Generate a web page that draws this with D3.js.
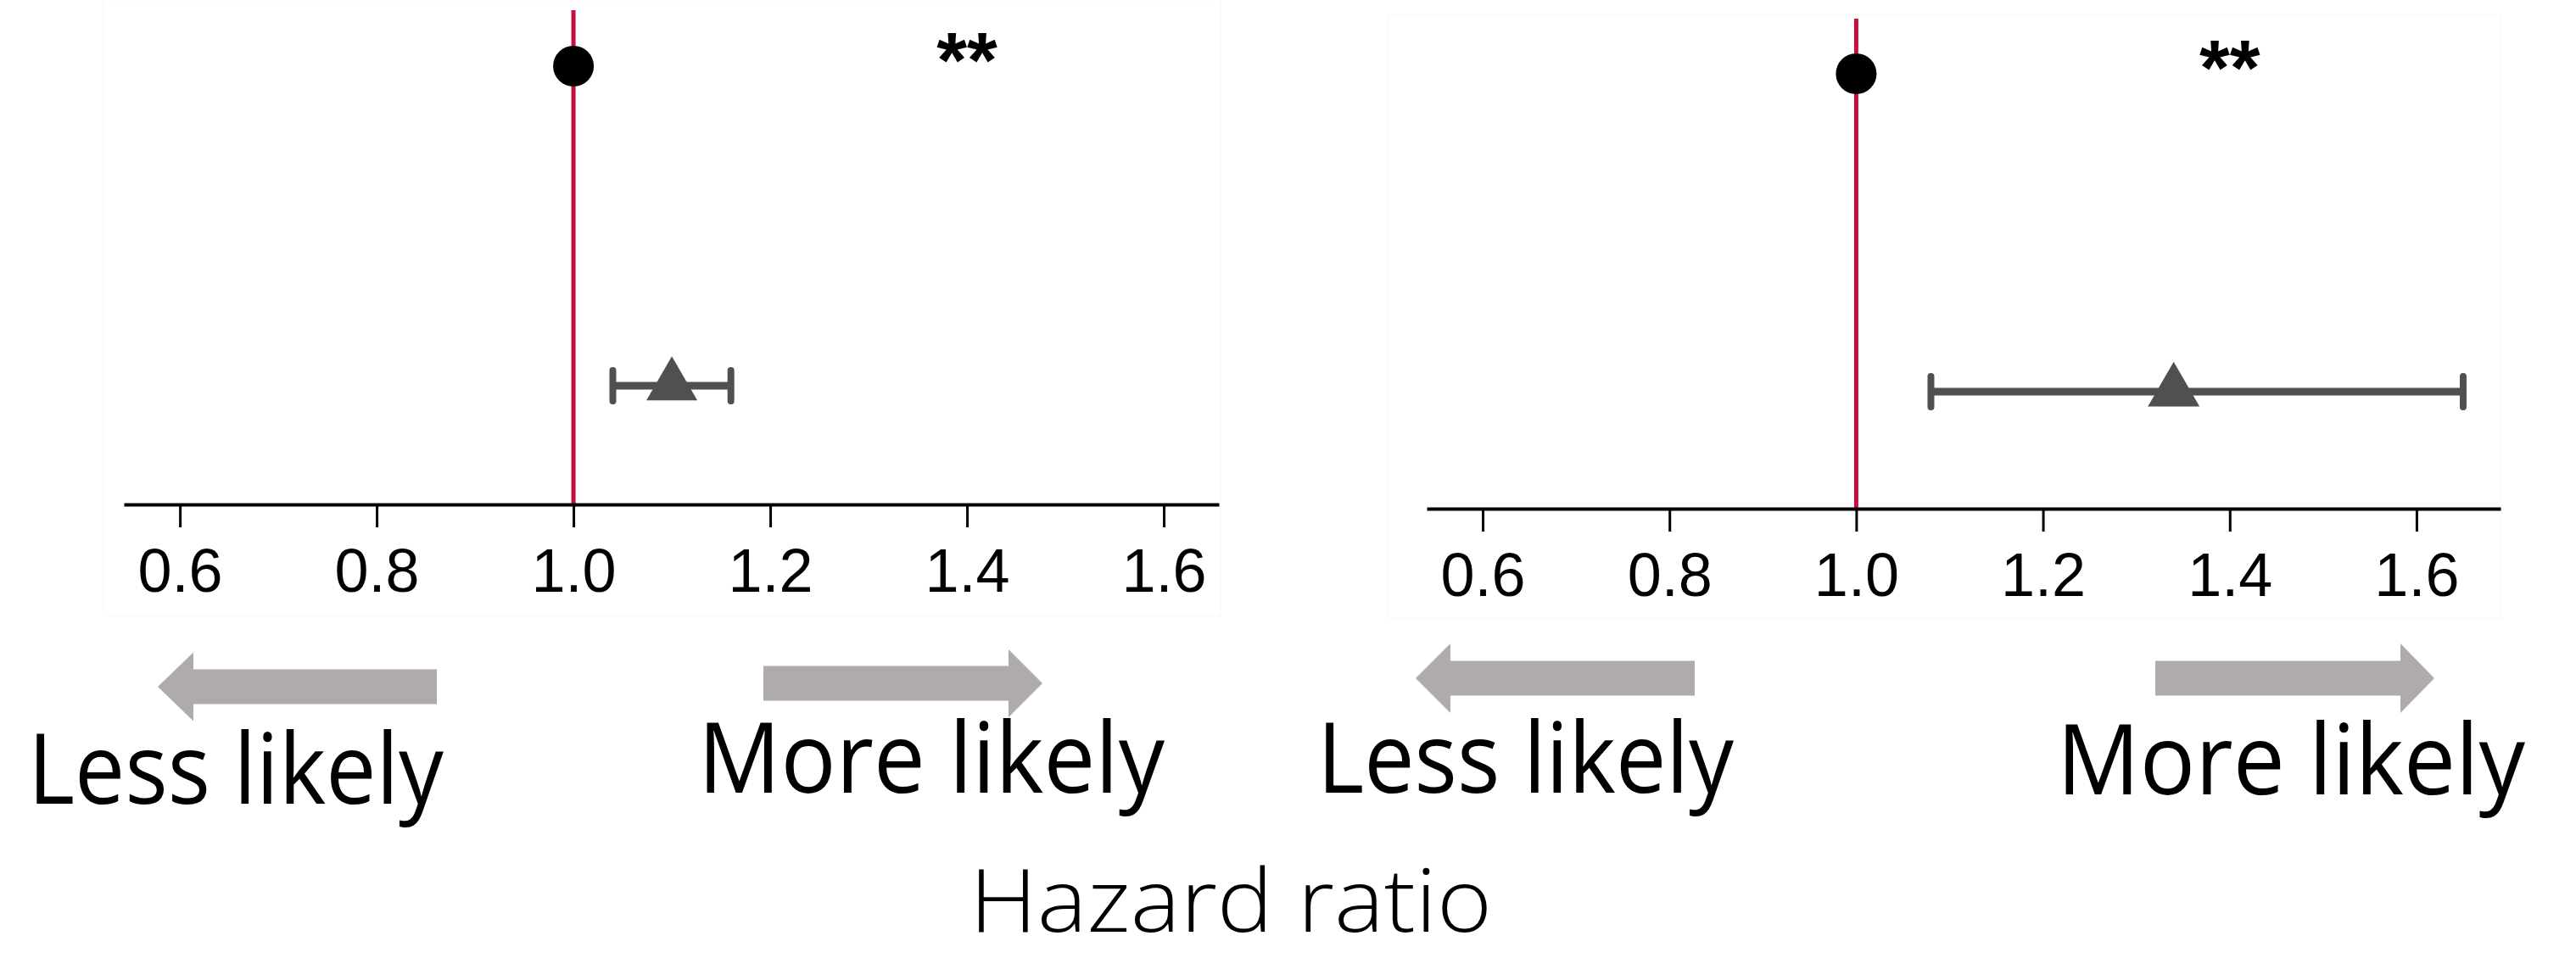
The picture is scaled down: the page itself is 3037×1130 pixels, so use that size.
<!DOCTYPE html>
<html>
<head>
<meta charset="utf-8">
<script src="https://cdn.jsdelivr.net/npm/d3@7"></script>
<style>
  html, body { margin: 0; padding: 0; background: #ffffff; }
  svg { display: block; }
</style>
</head>
<body>
<svg id="chart" width="3037" height="1130"></svg>
<script>
// Hazard ratios per row (first row is the reference group, HR = 1)
const rows = ["Reference", "Exposed"];
const leftHR = [1.00, 1.10];
const leftLower = [null, 1.04];
const leftUpper = [null, 1.16];
const rightHR = [1.00, 1.34];
const rightLower = [null, 1.08];
const rightUpper = [null, 1.65];
const tickValues = [0.6, 0.8, 1.0, 1.2, 1.4, 1.6];
const significance = ["**", "**"];
const significanceAt = [1.4, 1.4];
const directionLabels = ["Less likely", "More likely"];
const axisTitle = "Hazard ratio";

const RED = "#c5103e";
const MARK = "#505050";
const ARROW = "#afabaa";

const svg = d3.select("#chart");

const panels = [
  {
    hr: leftHR, lo: leftLower, hi: leftUpper, star: significance[0], starAt: significanceAt[0],
    range: [146, 1437], domain: [0.543, 1.656], axisY: 595, lineTop: 12, rowY: [78, 455],
    frame: [122, 0, 1439, 727], circleR: 24, triW: 60,
    barW: 9, capHalf: 18, starBase: 103,
    arrows: { left: [186, 228, 515, 810, 20.5, 40.5], right: [900, 1189, 1229, 806, 20.5, 40] },
    labels: [ { text: directionLabels[0], x: 33, w: 490, y: 948 },
              { text: directionLabels[1], x: 823, w: 550, y: 935 } ]
  },
  {
    hr: rightHR, lo: rightLower, hi: rightUpper, star: significance[1], starAt: significanceAt[1],
    range: [1682, 2948], domain: [0.54, 1.69], axisY: 600, lineTop: 22, rowY: [87, 462],
    frame: [1637, 17, 2949, 730], circleR: 24, triW: 61,
    barW: 9, capHalf: 18, starBase: 112,
    arrows: { left: [1669, 1710, 1998, 800, 20.5, 41], right: [2541, 2830, 2870, 800, 20.5, 41] },
    labels: [ { text: directionLabels[0], x: 1553, w: 491, y: 935 },
              { text: directionLabels[1], x: 2425, w: 552, y: 937 } ]
  }
];

panels.forEach(p => {
  const g = svg.append("g");
  const x = d3.scaleLinear().domain(p.domain).range(p.range);
  const y = d3.scalePoint().domain(rows).range(p.rowY);

  // very faint plot frame
  g.append("rect")
    .attr("x", p.frame[0]).attr("y", p.frame[1])
    .attr("width", p.frame[2] - p.frame[0]).attr("height", p.frame[3] - p.frame[1])
    .attr("fill", "none").attr("stroke", "#f8f8f8").attr("stroke-width", 1);

  // reference line at HR = 1
  g.append("line")
    .attr("x1", x(1)).attr("x2", x(1))
    .attr("y1", p.lineTop).attr("y2", p.axisY)
    .attr("stroke", RED).attr("stroke-width", 5);

  // x axis
  const axis = d3.axisBottom(x).tickValues(tickValues)
    .tickFormat(d3.format(".1f")).tickSize(27).tickSizeOuter(0).tickPadding(25);
  const ag = g.append("g").attr("transform", `translate(0,${p.axisY})`).call(axis);
  ag.select(".domain").attr("stroke", "#000").attr("stroke-width", 4);
  ag.selectAll(".tick line").attr("stroke", "#000").attr("stroke-width", 3);
  ag.selectAll(".tick text")
    .attr("fill", "#000")
    .style("font-family", "'Liberation Sans', Arial, sans-serif")
    .style("font-size", "72px");

  // confidence intervals
  rows.forEach((r, i) => {
    if (p.lo[i] == null) return;
    const cy = y(r);
    g.append("line")
      .attr("x1", x(p.lo[i])).attr("x2", x(p.hi[i]))
      .attr("y1", cy).attr("y2", cy)
      .attr("stroke", MARK).attr("stroke-width", p.barW);
    [p.lo[i], p.hi[i]].forEach(v => {
      g.append("line")
        .attr("x1", x(v)).attr("x2", x(v))
        .attr("y1", cy - p.capHalf).attr("y2", cy + p.capHalf)
        .attr("stroke", MARK).attr("stroke-width", 8).attr("stroke-linecap", "round");
    });
  });

  // point estimates: circle for reference, triangle for comparison
  rows.forEach((r, i) => {
    const cx = x(p.hr[i]), cy = y(r);
    if (i === 0) {
      g.append("path")
        .attr("d", d3.symbol(d3.symbolCircle, Math.PI * p.circleR * p.circleR)())
        .attr("transform", `translate(${cx},${cy})`)
        .attr("fill", "#000");
    } else {
      const k = p.triW / (2 * Math.sqrt(3));
      const size = k * k * 3 * Math.sqrt(3);
      g.append("path")
        .attr("d", d3.symbol(d3.symbolTriangle, size)())
        .attr("transform", `translate(${cx},${cy})`)
        .attr("fill", MARK);
    }
  });

  // significance marker
  g.append("text")
    .attr("x", x(p.starAt)).attr("y", p.starBase)
    .attr("text-anchor", "middle")
    .style("font-family", "'Liberation Sans', Arial, sans-serif")
    .style("font-size", "92px")
    .style("font-weight", "bold")
    .attr("fill", "#000")
    .text(p.star);

  // direction arrows
  const la = p.arrows.left;   // tip, headBack, tail, cy, shaftHalf, headHalf
  g.append("path")
    .attr("d", `M${la[0]},${la[3]} L${la[1]},${la[3] - la[5]} L${la[1]},${la[3] - la[4]} L${la[2]},${la[3] - la[4]} L${la[2]},${la[3] + la[4]} L${la[1]},${la[3] + la[4]} L${la[1]},${la[3] + la[5]} Z`)
    .attr("fill", ARROW);
  const ra = p.arrows.right;  // tail, headBack, tip, cy, shaftHalf, headHalf
  g.append("path")
    .attr("d", `M${ra[2]},${ra[3]} L${ra[1]},${ra[3] - ra[5]} L${ra[1]},${ra[3] - ra[4]} L${ra[0]},${ra[3] - ra[4]} L${ra[0]},${ra[3] + ra[4]} L${ra[1]},${ra[3] + ra[4]} L${ra[1]},${ra[3] + ra[5]} Z`)
    .attr("fill", ARROW);

  // direction labels
  p.labels.forEach(l => {
    g.append("text")
      .attr("x", l.x).attr("y", l.y)
      .attr("textLength", l.w).attr("lengthAdjust", "spacingAndGlyphs")
      .style("font-family", "'Open Sans', 'Noto Sans', sans-serif")
      .style("font-size", "116px")
      .attr("fill", "#000")
      .text(l.text);
  });
});

// shared axis title
svg.append("text")
  .attr("x", 1143).attr("y", 1099)
  .attr("textLength", 616).attr("lengthAdjust", "spacingAndGlyphs")
  .style("font-family", "'Open Sans', 'Noto Sans', sans-serif")
  .style("font-size", "104px")
  .style("font-weight", 300)
  .attr("fill", "#000")
  .text(axisTitle);
</script>
</body>
</html>
